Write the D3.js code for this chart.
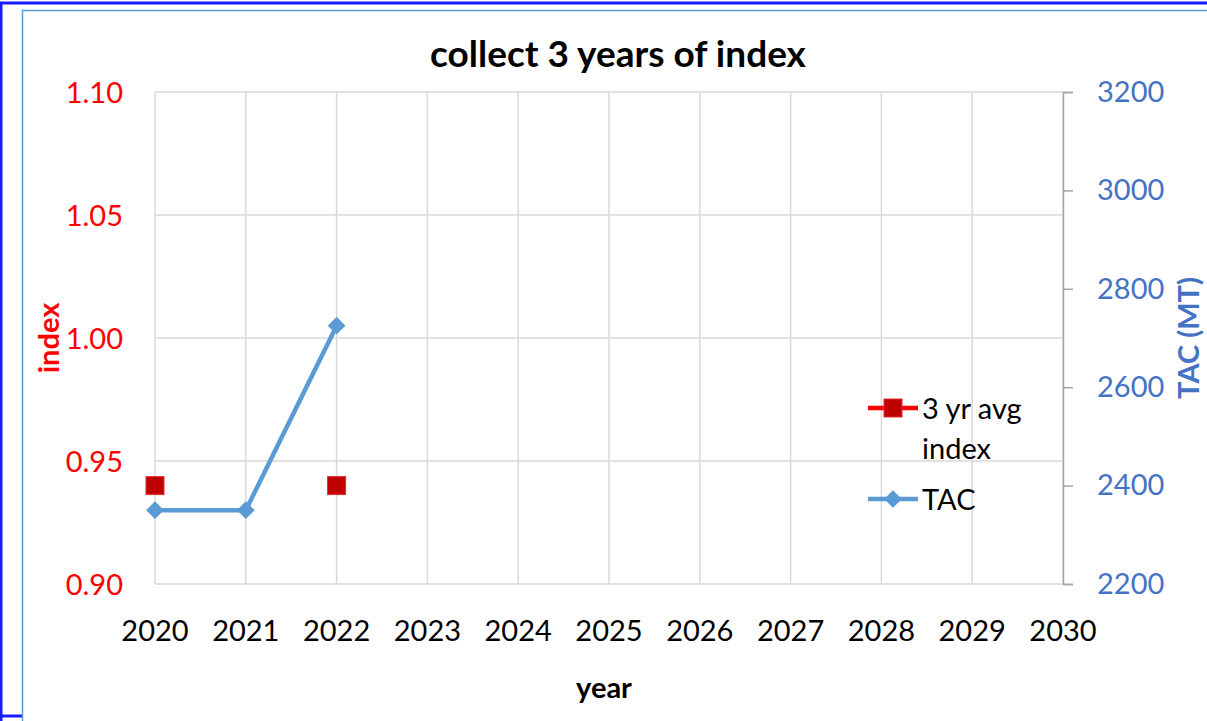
<!DOCTYPE html>
<html>
<head>
<meta charset="utf-8">
<script src="https://cdn.jsdelivr.net/npm/d3@7"></script>
<style>
  body { margin: 0; background: #fff; }
  svg { display: block; font-family: Lato, "Open Sans", sans-serif; }
</style>
</head>
<body>
<svg width="1207" height="721"></svg>
<script>
// chart values
var years = [2020, 2021, 2022, 2023, 2024, 2025, 2026, 2027, 2028, 2029, 2030];
var idxYears = [2020, 2022];
var idxValues = [0.94, 0.94];
var tacYears = [2020, 2021, 2022];
var tacValues = [2350, 2350, 2725];
var leftTicks = [0.90, 0.95, 1.00, 1.05, 1.10];
var rightTicks = [2200, 2400, 2600, 2800, 3000, 3200];

var svg = d3.select('svg');

// page frame
svg.append('path')
    .attr('d', 'M1,721 V3 H1207')
    .attr('fill', 'none')
    .attr('stroke', '#1a1aff')
    .attr('stroke-width', 3);
svg.append('line')
    .attr('x1', 0).attr('x2', 22).attr('y1', 716).attr('y2', 716)
    .attr('stroke', '#1a1aff').attr('stroke-width', 3);
svg.append('path')
    .attr('d', 'M22.5,721 V10.5 H1207')
    .attr('fill', 'none')
    .attr('stroke', '#5b9bd5')
    .attr('stroke-width', 1.5);

var x = d3.scaleLinear().domain([2020, 2030]).range([155, 1063]);
var yL = d3.scaleLinear().domain([0.90, 1.10]).range([584, 92]);
var yR = d3.scaleLinear().domain([2200, 3200]).range([584, 92]);

// grid
svg.append('g').selectAll('line')
    .data(years)
    .enter().append('line')
    .attr('x1', d => x(d)).attr('x2', d => x(d))
    .attr('y1', 92).attr('y2', 584)
    .attr('stroke', '#d9d9d9').attr('stroke-width', 1.5);
svg.append('g').selectAll('line')
    .data(leftTicks)
    .enter().append('line')
    .attr('x1', 155).attr('x2', 1063)
    .attr('y1', d => yL(d)).attr('y2', d => yL(d))
    .attr('stroke', '#d9d9d9').attr('stroke-width', 1.5);

// left axis labels
svg.append('g').selectAll('text')
    .data(leftTicks)
    .enter().append('text')
    .attr('x', 123).attr('y', d => yL(d) + 11)
    .attr('text-anchor', 'end')
    .attr('fill', '#ff0000')
    .attr('font-size', 29)
    .text(d => d3.format('.2f')(d));

// right axis
var rightAxis = d3.axisRight(yR)
    .tickValues(rightTicks)
    .tickFormat(d3.format('d'))
    .tickSize(10).tickPadding(24);
var ra = svg.append('g')
    .attr('transform', 'translate(1063,0)')
    .call(rightAxis);
ra.select('.domain').attr('stroke', '#a6a6a6').attr('stroke-width', 1.5);
ra.selectAll('.tick line').attr('stroke', '#a6a6a6').attr('stroke-width', 1.5);
ra.selectAll('.tick text')
    .attr('fill', '#4472c4')
    .attr('font-size', 29)
    .attr('font-family', 'Lato, sans-serif');

// x labels
svg.append('g').selectAll('text')
    .data(years)
    .enter().append('text')
    .attr('x', d => x(d)).attr('y', 641)
    .attr('text-anchor', 'middle')
    .attr('fill', '#000')
    .attr('font-size', 29)
    .text(d => d);

// titles
svg.append('text')
    .attr('x', 618).attr('y', 67)
    .attr('text-anchor', 'middle')
    .attr('font-size', 37).attr('font-weight', 'bold')
    .text('collect 3 years of index');
svg.append('text')
    .attr('x', 604).attr('y', 698)
    .attr('text-anchor', 'middle')
    .attr('font-size', 29).attr('font-weight', 'bold')
    .text('year');
svg.append('text')
    .attr('transform', 'translate(59,338) rotate(-90)')
    .attr('text-anchor', 'middle')
    .attr('fill', '#ff0000')
    .attr('font-size', 29).attr('font-weight', 'bold')
    .text('index');
svg.append('text')
    .attr('transform', 'translate(1199,338) rotate(-90)')
    .attr('text-anchor', 'middle')
    .attr('fill', '#4472c4')
    .attr('font-size', 29).attr('font-weight', 'bold')
    .text('TAC (MT)');

// TAC line
var line = d3.line()
    .x((d, i) => x(tacYears[i]))
    .y(d => yR(d));
svg.append('path')
    .datum(tacValues)
    .attr('d', line)
    .attr('fill', 'none')
    .attr('stroke', '#5b9bd5')
    .attr('stroke-width', 4.5);
var diamond = d3.symbol().type(d3.symbolDiamond2).size(200);
svg.append('g').selectAll('path')
    .data(tacValues)
    .enter().append('path')
    .attr('d', diamond)
    .attr('transform', (d, i) => 'translate(' + x(tacYears[i]) + ',' + yR(d) + ')')
    .attr('fill', '#5b9bd5');

// index markers
svg.append('g').selectAll('rect')
    .data(idxValues)
    .enter().append('rect')
    .attr('x', (d, i) => x(idxYears[i]) - 9)
    .attr('y', d => yL(d) - 9)
    .attr('width', 18).attr('height', 18)
    .attr('fill', '#c00000')
    .attr('stroke', '#e03030').attr('stroke-width', 1);

// legend
var lg = svg.append('g');
lg.append('line')
    .attr('x1', 868).attr('x2', 918).attr('y1', 408).attr('y2', 408)
    .attr('stroke', '#ff0000').attr('stroke-width', 4.5);
lg.append('rect')
    .attr('x', 884).attr('y', 399).attr('width', 18).attr('height', 18)
    .attr('fill', '#c00000').attr('stroke', '#e03030');
lg.append('text').attr('x', 922).attr('y', 419).attr('font-size', 29).text('3 yr avg');
lg.append('text').attr('x', 922).attr('y', 459).attr('font-size', 29).text('index');
lg.append('line')
    .attr('x1', 868).attr('x2', 918).attr('y1', 499).attr('y2', 499)
    .attr('stroke', '#5b9bd5').attr('stroke-width', 4.5);
lg.append('path')
    .attr('d', diamond)
    .attr('transform', 'translate(893,499)')
    .attr('fill', '#5b9bd5');
lg.append('text').attr('x', 922).attr('y', 510).attr('font-size', 29).text('TAC');
</script>
</body>
</html>
